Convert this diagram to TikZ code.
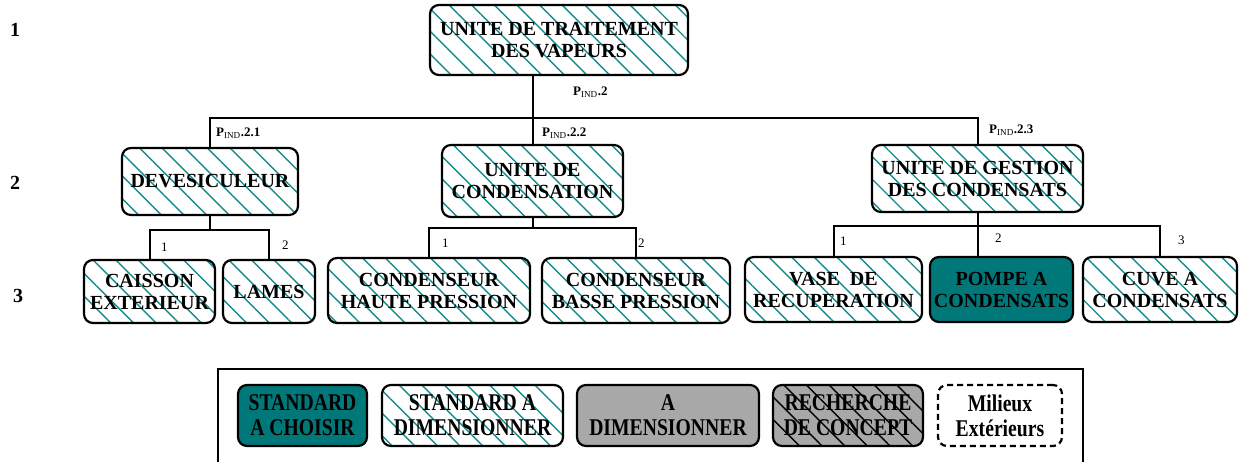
\documentclass[tikz,border=0pt]{standalone}
\usepackage{fontspec}
\setmainfont{Liberation Serif}
\newfontfamily\legfont[FakeStretch=0.82]{Liberation Serif}
\usepackage{tikz}
\usetikzlibrary{patterns.meta}
\usepackage{xcolor}
\definecolor{stdteal}{RGB}{0,120,122}
\definecolor{hatchteal}{RGB}{20,140,140}
\definecolor{dimgray}{RGB}{168,168,168}
\newcommand{\pind}[1]{{\bfseries P}\textsubscript{IND}{\bfseries .#1}}

\begin{document}
\begin{tikzpicture}[x=1pt,y=-1pt,
  box/.style={draw,rounded corners=9pt,line width=2.2pt,align=center,inner sep=1pt,font=\fontsize{20}{22}\selectfont\bfseries},
  pat/.style={pattern={Lines[angle=-45,distance=16pt,line width=1.4pt]},pattern color=hatchteal},
  hatch/.style={box,pat},
  std/.style={box,fill=stdteal},
  leg/.style={minimum height=61,font=\legfont\fontsize{24}{25}\selectfont\bfseries},
  link/.style={line width=2pt},
  lab/.style={font=\fontsize{13}{15}\selectfont,anchor=west,inner sep=1pt},
  lvl/.style={font=\fontsize{20}{22}\selectfont\bfseries}]
  \useasboundingbox (0,0) rectangle (1245,461);
  % level numbers
  \node[lvl] (n1) at (15,30) {1};
  \node[lvl] (n2) at (15,183) {2};
  \node[lvl] (n3) at (18,296) {3};
  % tree
  \node[hatch,minimum width=258,minimum height=70] (UTV) at (559,40) {UNITE DE TRAITEMENT\\DES VAPEURS};
  \node[hatch,minimum width=176,minimum height=67] (DEV) at (210,181.5) {DEVESICULEUR};
  \node[hatch,minimum width=181,minimum height=72] (UC) at (532.5,181) {UNITE DE\\CONDENSATION};
  \node[hatch,minimum width=211,minimum height=67] (UGC) at (977.5,178.5) {UNITE DE GESTION\\DES CONDENSATS};
  \node[hatch,minimum width=131,minimum height=63] (CAI) at (149.5,291.5) {CAISSON\\EXTERIEUR};
  \node[hatch,minimum width=92,minimum height=63] (LAM) at (269,291.5) {LAMES};
  \node[hatch,minimum width=202,minimum height=65] (CHP) at (429,290.5) {CONDENSEUR\\HAUTE PRESSION};
  \node[hatch,minimum width=188,minimum height=65] (CBP) at (636,290.5) {CONDENSEUR\\BASSE PRESSION};
  \node[hatch,minimum width=177,minimum height=65] (VAS) at (833.5,289.5) {VASE~~DE\\RECUPERATION};
  \node[std,minimum width=143,minimum height=65] (POM) at (1001.5,289.5) {POMPE A\\CONDENSATS};
  \node[hatch,minimum width=154,minimum height=65] (CUV) at (1160,289.5) {CUVE A\\CONDENSATS};
  % connectors
  \coordinate (bus1) at (0,118);
  \coordinate (bus21) at (0,230);
  \coordinate (bus22) at (0,228);
  \coordinate (bus23) at (0,226);
  \draw[link] (UC.north |- UTV.south) -- (UC.north);
  \draw[link] (DEV.north) -- (DEV.north |- bus1) -- (UGC.north |- bus1) -- (UGC.north);
  \draw[link] (DEV.south) -- (DEV.south |- bus21);
  \draw[link] (CAI.north) -- (CAI.north |- bus21) -- (LAM.north |- bus21) -- (LAM.north);
  \draw[link] (UC.south) -- (UC.south |- bus22);
  \draw[link] (CHP.north) -- (CHP.north |- bus22) -- (CBP.north |- bus22) -- (CBP.north);
  \draw[link] (UGC.south) -- (UGC.south |- POM.north);
  \draw[link] (VAS.north) -- (VAS.north |- bus23) -- (CUV.north |- bus23) -- (CUV.north);
  % labels
  \node[lab] (p2) at (572,92) {\pind{2}};
  \node[lab] (p21) at (215,133) {\pind{2.1}};
  \node[lab] (p22) at (541,133) {\pind{2.2}};
  \node[lab] (p23) at (988,130) {\pind{2.3}};
  \node[lab] (a1) at (160,247) {1};
  \node[lab] (a2) at (281,245) {2};
  \node[lab] (b1) at (441,243) {1};
  \node[lab] (b2) at (637,243) {2};
  \node[lab] (c1) at (839,241) {1};
  \node[lab] (c2) at (994,238) {2};
  \node[lab] (c3) at (1177,240) {3};
  % legend
  \node[draw,line width=1.5pt,minimum width=865,minimum height=112,anchor=north west,inner sep=0] (LEG) at (217,368) {};
  \node[std,leg,minimum width=129] (L1) at (302.5,415.5) {STANDARD\\A CHOISIR};
  \node[hatch,leg,minimum width=181] (L2) at (472.5,415.5) {STANDARD A\\DIMENSIONNER};
  \node[box,leg,fill=dimgray,minimum width=182] (L3) at (668,415.5) {A\\DIMENSIONNER};
  \node[box,leg,preaction={fill=dimgray},pat,pattern color=black,minimum width=150] (L4) at (848,415.5) {RECHERCHE\\DE CONCEPT};
  \node[box,leg,dashed,dash pattern=on 6pt off 4pt,minimum width=124] (L5) at (1000,415.5) {Milieux\\Extérieurs};
\end{tikzpicture}
\end{document}
